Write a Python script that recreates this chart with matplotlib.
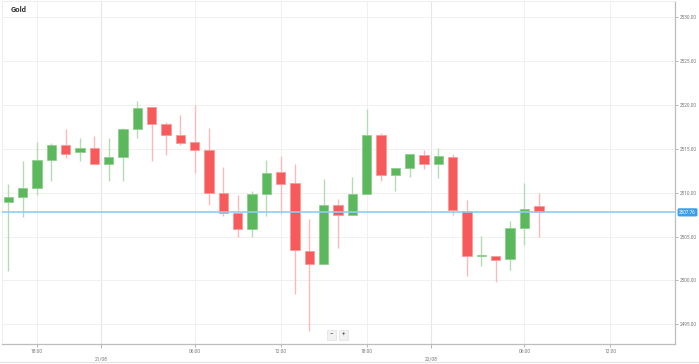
import numpy as np
import matplotlib
matplotlib.use("Agg")
import matplotlib.pyplot as plt
from matplotlib.lines import Line2D

plt.rcParams['font.family'] = ['Roboto', 'DejaVu Sans']

# hourly candles
opens = [2508.90, 2509.47, 2510.57, 2513.71, 2515.42, 2514.66, 2515.15, 2513.33,
         2514.02, 2517.23, 2519.77, 2517.84, 2516.59, 2515.80, 2514.92, 2509.96,
         2507.65, 2505.87, 2509.81, 2512.31, 2511.06, 2503.41, 2501.89, 2508.64,
         2507.46, 2509.85, 2516.55, 2511.97, 2512.80, 2514.28, 2513.30, 2514.02,
         2507.88, 2502.80, 2502.80, 2502.39, 2505.98, 2508.45]
highs = [2510.98, 2513.56, 2515.83, 2515.72, 2517.31, 2516.25, 2516.52, 2516.29,
         2517.42, 2520.45, 2519.77, 2518.10, 2518.83, 2520.00, 2517.42, 2512.88,
         2509.73, 2510.15, 2513.71, 2514.13, 2513.33, 2507.00, 2511.52, 2509.28,
         2511.82, 2519.51, 2516.82, 2512.80, 2514.36, 2514.85, 2515.08, 2514.47,
         2509.17, 2505.11, 2502.80, 2506.74, 2511.06, 2509.92]
lows = [2501.10, 2507.20, 2509.77, 2511.29, 2513.94, 2513.64, 2513.33, 2511.36,
        2511.29, 2516.29, 2513.56, 2514.28, 2515.45, 2512.20, 2508.60, 2507.35,
        2505.00, 2504.92, 2507.39, 2507.58, 2498.48, 2494.24, 2501.89, 2503.64,
        2507.46, 2509.85, 2511.36, 2510.23, 2511.74, 2512.73, 2511.67, 2507.50,
        2500.45, 2501.67, 2499.77, 2501.21, 2504.00, 2504.92]
closes = [2509.47, 2510.53, 2513.71, 2515.42, 2514.39, 2515.15, 2513.33, 2514.02,
          2517.23, 2519.70, 2517.88, 2516.59, 2515.72, 2514.92, 2509.96, 2507.65,
          2505.87, 2509.81, 2512.27, 2510.98, 2503.48, 2501.89, 2508.64, 2507.46,
          2509.85, 2516.55, 2511.97, 2512.80, 2514.36, 2513.26, 2514.13, 2508.07,
          2502.73, 2502.88, 2502.31, 2505.98, 2508.11, 2507.76]
last_price = 2507.76

time_pos = [2, 13, 19, 25, 36, 42]
time_labels = ['18:00', '06:00', '12:00', '18:00', '06:00', '12:00']
date_pos = [6.5, 29.5]
date_labels = ['21/08', '22/08']
price_ticks = [2495, 2500, 2505, 2510, 2515, 2520, 2525, 2530]

green = '#5cb85c'
red = '#f75a5a'

fig = plt.figure(figsize=(6.99, 3.64), dpi=100)
ax = fig.add_axes([1.5 / 699, 1 - 344 / 364, 673.5 / 699, 343 / 364])

o = np.array(opens)
c = np.array(closes)
x = np.arange(len(o))
up = c >= o

ax.vlines(x[up], np.array(lows)[up], np.array(highs)[up], color='#b3dcb3', lw=1.0, zorder=2)
ax.vlines(x[~up], np.array(lows)[~up], np.array(highs)[~up], color='#fbb9b9', lw=1.0, zorder=2)
h = np.where(np.abs(c - o) < 0.12, 0.12, c - o)
ax.bar(x[up], h[up], bottom=o[up], width=0.66, color=green, edgecolor='#8fd08f', lw=0.6, zorder=3)
ax.bar(x[~up], h[~up], bottom=o[~up], width=0.66, color=red, edgecolor='#fb9a9a', lw=0.6, zorder=3)

ax.axhline(last_price, color='#8fcdf4', lw=1.2, zorder=4)
ax.annotate(f'{last_price:.2f}', xy=(1.0, last_price), xycoords=('axes fraction', 'data'),
            xytext=(3, 0), textcoords='offset points', fontsize=3.3, color='white',
            va='center', ha='left', annotation_clip=False,
            bbox=dict(boxstyle='round,pad=0.35', fc='#3d9fe6', ec='none'))

ax.set_xlim(-0.47, 46.5)
ax.set_ylim(2492.75, 2531.86)

ax.yaxis.tick_right()
ax.set_yticks(price_ticks)
ax.set_yticklabels([f'{p:.2f}' for p in price_ticks])
ax.tick_params(axis='y', length=2, width=0.6, color='#aaaaaa', labelsize=3.4,
               labelcolor='#777777', pad=1.5)

ax.set_xticks(time_pos)
ax.set_xticklabels(time_labels)
ax.set_xticks(date_pos, minor=True)
ax.set_xticklabels(date_labels, minor=True)
ax.tick_params(axis='x', which='major', length=2, width=0.6, color='#aaaaaa', labelsize=3.5,
               labelcolor='#777777', pad=1.5)
ax.tick_params(axis='x', which='minor', length=3, width=0.6, color='#aaaaaa', labelsize=3.5,
               labelcolor='#777777', pad=6)

ax.grid(axis='y', color='#f0f0f0', lw=0.7)
ax.grid(axis='x', which='major', color='#f0f0f0', lw=0.7)
ax.grid(axis='x', which='minor', color='#e6e6e6', lw=0.8)
ax.set_axisbelow(True)

for s in ['left', 'top']:
    ax.spines[s].set_color('#eeeeee')
    ax.spines[s].set_linewidth(0.7)
for s in ['right', 'bottom']:
    ax.spines[s].set_color('#bdbdbd')
    ax.spines[s].set_linewidth(0.9)

ax.text(0.014, 0.974, 'Gold', transform=ax.transAxes, fontsize=5.5, fontweight='bold',
        color='#333333', va='center', ha='left')

# zoom buttons
for lab, px in [('\u2212', 331.7), ('+', 343.3)]:
    fig.text(px / 699, 1 - 334.5 / 364, lab, fontsize=4.5, color='#444444', ha='center',
             va='center', bbox=dict(boxstyle='square,pad=0.4', fc='#f2f2f2', ec='#e2e2e2', lw=0.5))

fig.add_artist(Line2D([0, 1], [1 - 362 / 364] * 2, color='#e3e3e3', lw=0.8))

fig.savefig('out.png', dpi=100)
